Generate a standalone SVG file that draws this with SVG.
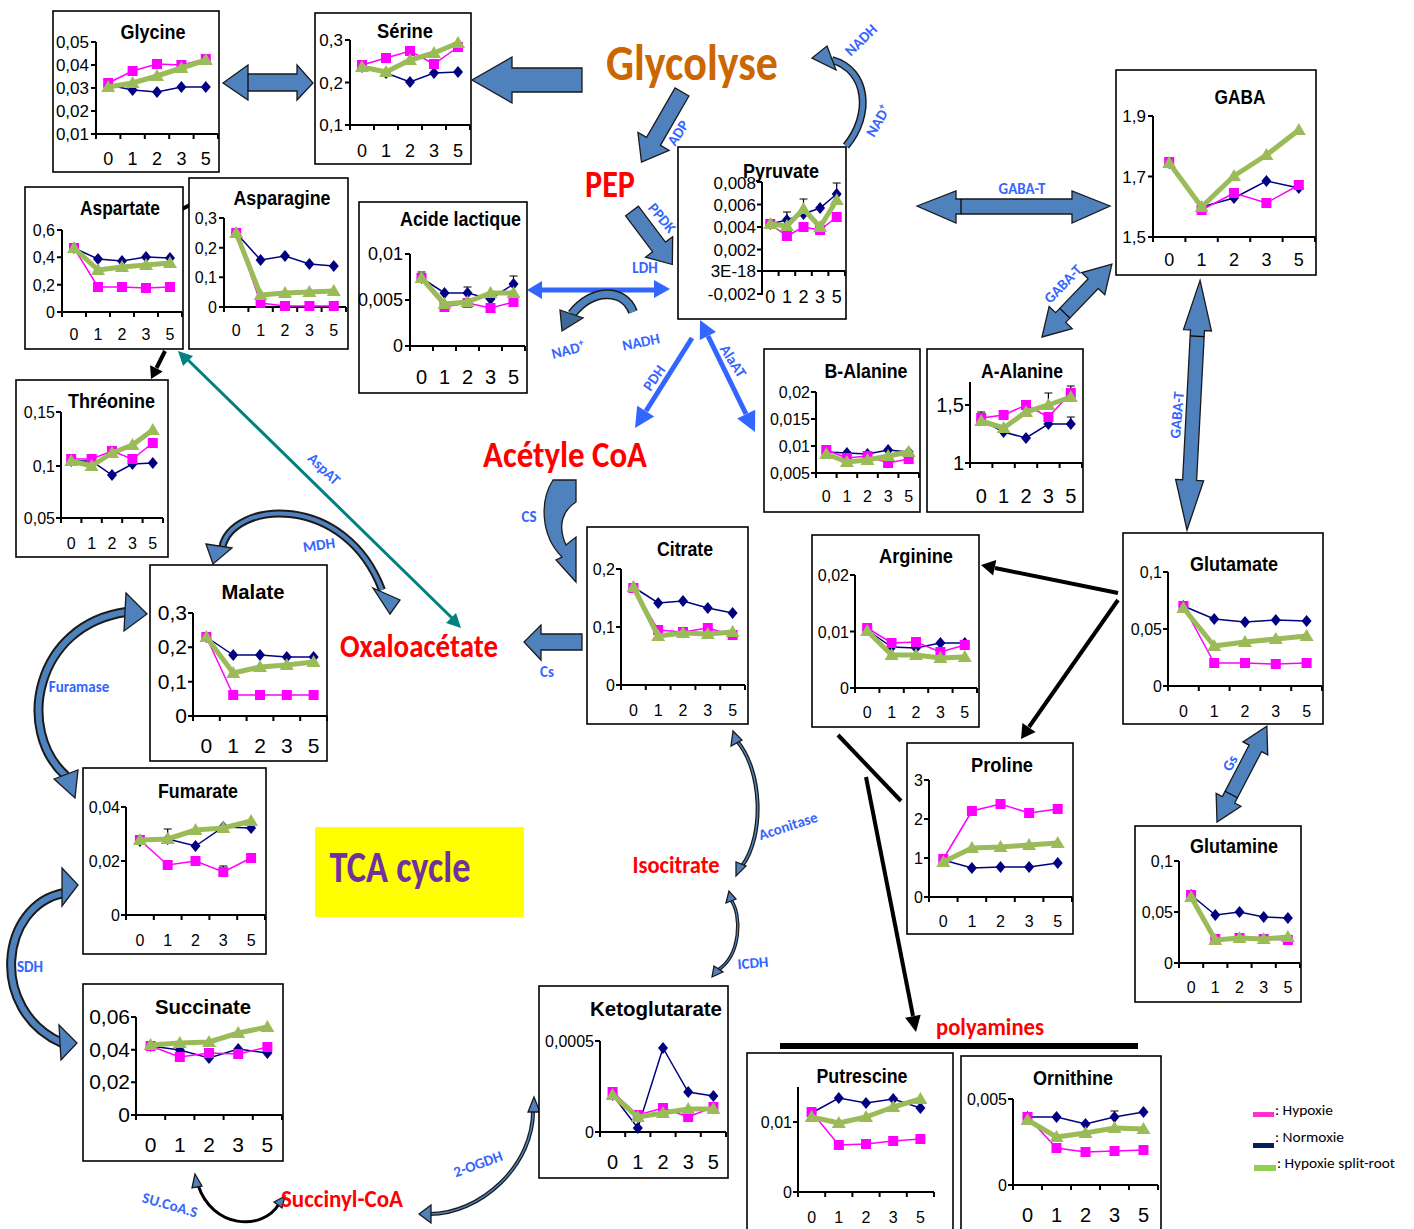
<svg xmlns="http://www.w3.org/2000/svg" width="1414" height="1229" viewBox="0 0 1414 1229">
<defs>
<style>
.bx{fill:#fff;stroke:#000;stroke-width:1.6}
.ax{fill:none;stroke:#000;stroke-width:2}
.t{font-family:"Liberation Sans Narrow","Liberation Sans",Arial,sans-serif;fill:#000}
.tk{font-size:16px}
.ty{text-anchor:end}
.tx{text-anchor:middle}
.ti{font-weight:bold;font-size:20px;text-anchor:middle}
.n{fill:none;stroke:#000080;stroke-width:1.5;marker-start:url(#md);marker-mid:url(#md);marker-end:url(#md)}
.p{fill:none;stroke:#FF00FF;stroke-width:1.5;marker-start:url(#ms);marker-mid:url(#ms);marker-end:url(#ms)}
.g{fill:none;stroke:#9BBB59;stroke-width:5;stroke-linejoin:round;marker-start:url(#mt);marker-mid:url(#mt);marker-end:url(#mt)}
.eb{fill:none;stroke:#000;stroke-width:1.2}
.blk{fill:#4F81BD;stroke:#1a1a1a;stroke-width:1.3;stroke-linejoin:miter}
.cvo{fill:none;stroke:#1a1a1a;stroke-linecap:butt}
.cvi{fill:none;stroke:#4F81BD;stroke-linecap:butt}
.enz{font-family:"Carlito","Liberation Sans Narrow","Liberation Sans",sans-serif;font-weight:bold;font-size:15px;fill:#3366FF;text-anchor:middle}
.met{font-family:"Carlito","Liberation Sans Narrow","Liberation Sans",sans-serif;font-weight:bold;fill:#FF0000;text-anchor:middle}
.bl{stroke:#000;stroke-width:4;fill:none}
.bh{fill:#000}
.lb{stroke:#3366FF;stroke-width:5;fill:none}
.lh{fill:#3366FF}
.lg{font-family:"Carlito","Liberation Sans Narrow","Liberation Sans",sans-serif;font-size:15px;fill:#000}
</style>
<marker id="md" viewBox="-7 -7 14 14" markerWidth="14" markerHeight="14" markerUnits="userSpaceOnUse" refX="0" refY="0" overflow="visible"><path d="M0,-6L5,0L0,6L-5,0Z" fill="#000080"/></marker>
<marker id="ms" viewBox="-7 -7 14 14" markerWidth="14" markerHeight="14" markerUnits="userSpaceOnUse" refX="0" refY="0" overflow="visible"><rect x="-5" y="-5" width="10" height="10" fill="#FF00FF"/></marker>
<marker id="mt" viewBox="-8 -8 16 16" markerWidth="16" markerHeight="16" markerUnits="userSpaceOnUse" refX="0" refY="0" overflow="visible"><path d="M0,-7L7,5H-7Z" fill="#9BBB59"/></marker>
</defs>
<rect width="1414" height="1229" fill="#fff"/>

<!-- ===================== CONNECTORS ===================== -->
<g id="connectors">
<path class="blk" d="M582,68L512,68L512,57L472,80L512,103L512,92L582,92Z"/>
<path class="blk" d="M223,83L248,65L248,74L297,74L297,65L313,83L297,100L297,91L248,91L248,100Z"/>
<path class="eb" d="M248,74V91"/>
<path class="blk" transform="translate(682,92) rotate(120)" d="M0,-8L57,-8L57,-18L81,0L57,18L57,8L0,8Z"/>
<path class="blk" transform="translate(632,211) rotate(53)" d="M0,-8L45,-8L45,-17L67,0L45,17L45,8L0,8Z"/>
<path class="cvo" stroke-width="8" d="M846,146C872,115 868,70 832,60"/>
<path class="cvi" stroke-width="5" d="M846,146C872,115 868,70 832,60"/>
<path class="blk" d="M827,46L836,70L812,58Z"/>
<path class="lb" stroke-width="6" d="M540,290H657"/>
<path class="lh" d="M654,280L670,289L654,298Z"/>
<path class="lh" d="M542,281L527,290L542,299Z"/>
<path class="cvo" stroke-width="10" d="M633,312C624,288 592,288 572,314"/>
<path class="cvi" stroke-width="7" stroke="#3E6A9A" d="M633,312C624,288 592,288 572,314"/>
<path class="blk" style="fill:#3E6A9A" d="M560,310L583,318L562,331Z"/>
<path class="lb" d="M692,338L646,411"/>
<path class="lh" d="M635,428L654.2,416.5L637.2,405.7Z"/>
<path class="lb" d="M708,336L746,414"/>
<path class="lh" d="M755,432L755.2,409.7L737.2,418.5Z"/>
<path class="lh" d="M700,320L716,332L699.8,340Z"/>
<path class="blk" d="M917,206L956,191L956,199L1072,199L1072,191L1110,206L1072,223L1072,214L956,214L956,223Z"/>
<path class="eb" d="M961,199V214"/>
<path class="blk" transform="translate(1042,337) rotate(-46.2)" d="M0,0L27,-16L27,-7L74,-7L74,-16L101,0L74,16L74,7L27,7L27,16Z"/>
<path class="eb" transform="translate(1042,337) rotate(-46.2)" d="M33,-7V7"/>
<path class="blk" transform="translate(1187,530) rotate(-87)" d="M0,0L50,-14L50,-7L200,-7L200,-14L250,0L200,14L200,7L50,7L50,14Z"/>
<path class="eb" transform="translate(1187,530) rotate(-87)" d="M194,-7V7"/>
<path class="blk" transform="translate(1217,822) rotate(-62.5)" d="M0,0L25,-14L25,-7L83,-7L83,-14L108,0L83,14L83,7L25,7L25,14Z"/>
<path class="eb" transform="translate(1217,822) rotate(-62.5)" d="M31,-7V7"/>
<path class="blk" d="M582,634L541,634L541,625L524,642L541,660L541,650L582,650Z"/>
<path class="blk" d="M553,480L576,480L576,502C563,510 557,525 566,545L576,537L576,582L556,560L562,557C540,535 540,500 553,480Z"/>
<path class="cvo" stroke-width="8" d="M222,548C232,500 345,492 382,590"/>
<path class="cvi" stroke-width="4" d="M222,548C232,500 345,492 382,590"/>
<path class="blk" d="M206,544L232,548L213,564Z"/>
<path class="blk" d="M373,588L400,600L390,614Z"/>
<path d="M186,358L452,618" stroke="#008080" stroke-width="3" fill="none"/>
<path fill="#008080" d="M178,351L193,356L183,366Z"/>
<path fill="#008080" d="M461,628L456,613L446,623Z"/>
<path class="cvo" stroke-width="10" d="M66,776C15,730 35,625 126,612"/>
<path class="cvi" stroke-width="6" d="M66,776C15,730 35,625 126,612"/>
<path class="blk" d="M126,593L147,614L124,631Z"/>
<path class="blk" d="M54,779L78,770L75,798Z"/>
<path class="cvo" stroke-width="10" d="M64,893C0,905 -12,1010 62,1043"/>
<path class="cvi" stroke-width="6" d="M64,893C0,905 -12,1010 62,1043"/>
<path class="blk" d="M62,868L78,885L62,906Z"/>
<path class="blk" d="M59,1025L77,1043L61,1060Z"/>
<path class="cvo" stroke-width="4" d="M737,741C762,770 765,835 742,866"/>
<path class="cvi" stroke-width="1.5" d="M737,741C762,770 765,835 742,866"/>
<path class="blk" d="M733,731L731,746L742,740Z"/>
<path class="blk" d="M736,876L736,862L746,866Z"/>
<path class="cvo" stroke-width="3.5" d="M731,900C742,915 741,955 718,970"/>
<path class="cvi" stroke-width="1.2" d="M731,900C742,915 741,955 718,970"/>
<path class="blk" d="M729,891L726,903L736,899Z"/>
<path class="blk" d="M712,977L714,966L723,972Z"/>
<path class="cvo" stroke-width="4" d="M533,1108C535,1165 480,1215 428,1214"/>
<path class="cvi" stroke-width="1.5" d="M533,1108C535,1165 480,1215 428,1214"/>
<path class="blk" d="M534,1097L528,1112L540,1112Z"/>
<path class="blk" d="M419,1214L431,1205L431,1223Z"/>
<path fill="none" stroke="#000" stroke-width="3" d="M198,1185C212,1228 262,1232 279,1204"/>
<path class="blk" d="M195,1174L192,1188L202,1186Z"/>
<path class="blk" d="M285,1196L274,1202L282,1208Z"/>
<path class="bl" d="M176,212L196,202"/>
<path class="bh" d="M207,196L199.5,207.7L193.1,195.3Z"/>
<path class="bl" d="M165,351L156.5,368"/>
<path class="bh" d="M151,379L162.7,371.4L150.1,365.2Z"/>
<path class="bl" d="M1118,593L995,568"/>
<path class="bh" d="M981,565L996.3,560L993.1,575.6Z"/>
<path class="bl" d="M1118,600L1029,727"/>
<path class="bh" d="M1021,739L1035.6,732.1L1022.4,722.9Z"/>
<path class="bl" d="M838,735L901,801"/>
<path class="bl" d="M866,777L913,1016"/>
<path class="bh" d="M916,1032L920.7,1014.8L905.1,1017.8Z"/>
<path d="M780,1046H1138" stroke="#000" stroke-width="6"/>
</g>

<!-- ===================== ENZYME LABELS ===================== -->
<g id="enzyme-labels">
<text class="enz" font-size="14" transform="rotate(-57 678 133)" x="678" y="138">ADP</text>
<text class="enz" font-size="14" transform="rotate(50 662 218)" x="662" y="223">PPDK</text>
<text class="enz" font-size="14" x="645" y="273">LDH</text>
<text class="enz" transform="rotate(-44 861 40)" x="861" y="45">NADH</text>
<text class="enz" transform="rotate(-60 878 121)" x="878" y="126">NAD<tspan font-size="10" baseline-shift="super">+</tspan></text>
<text class="enz" font-size="15" transform="rotate(-14 568 350)" x="568" y="355">NAD<tspan font-size="10" baseline-shift="super">+</tspan></text>
<text class="enz" font-size="16" transform="rotate(-12 641 342)" x="641" y="347">NADH</text>
<text class="enz" font-size="14" transform="rotate(-55 654 378)" x="654" y="383">PDH</text>
<text class="enz" font-size="14" transform="rotate(57 733 361)" x="733" y="366">AlaAT</text>
<text class="enz" x="1022" y="194">GABA-T</text>
<text class="enz" transform="rotate(-46 1063 284)" x="1063" y="289">GABA-T</text>
<text class="enz" transform="rotate(-85 1177 415)" x="1177" y="420">GABA-T</text>
<text class="enz" font-size="14" transform="rotate(-60 1230 763)" x="1230" y="768">Gs</text>
<text class="enz" font-size="14" x="529" y="522">CS</text>
<text class="enz" font-size="14" x="547" y="677">Cs</text>
<text class="enz" font-size="14" transform="rotate(44 324 469)" x="324" y="474">AspAT</text>
<text class="enz" font-size="14" transform="rotate(-8 319 545)" x="319" y="550">MDH</text>
<text class="enz" font-size="14" x="79" y="692">Furamase</text>
<text class="enz" font-size="14" x="30" y="972">SDH</text>
<text class="enz" transform="rotate(-18 788 826)" x="788" y="831">Aconitase</text>
<text class="enz" transform="rotate(-5 753 963)" x="753" y="968">ICDH</text>
<text class="enz" transform="rotate(-20 478 1164)" x="478" y="1169">2-OGDH</text>
<text class="enz" transform="rotate(16 170 1205)" x="170" y="1210">SU.CoA.S</text>
</g>

<!-- ===================== METABOLITE TEXT NODES ===================== -->
<g id="glycolyse"><text class="met" style="fill:#CC6600" font-size="50" x="692" y="80" textLength="172" lengthAdjust="spacingAndGlyphs">Glycolyse</text></g>
<g id="pep"><text class="met" font-size="38" x="610" y="197" textLength="50" lengthAdjust="spacingAndGlyphs">PEP</text></g>
<g id="acetylcoa"><text class="met" font-size="36" x="565" y="467" textLength="164" lengthAdjust="spacingAndGlyphs">Acétyle CoA</text></g>
<g id="oxaloacetate"><text class="met" font-size="33" x="419" y="657" textLength="158" lengthAdjust="spacingAndGlyphs">Oxaloacétate</text></g>
<g id="isocitrate"><text class="met" font-size="25" x="676" y="873" textLength="87" lengthAdjust="spacingAndGlyphs">Isocitrate</text></g>
<g id="succinylcoa"><text class="met" font-size="24" x="342" y="1207" textLength="122" lengthAdjust="spacingAndGlyphs">Succinyl-CoA</text></g>
<g id="polyamines"><text class="met" font-size="24" x="990" y="1035" textLength="108" lengthAdjust="spacingAndGlyphs">polyamines</text></g>
<g id="tca-cycle">
<rect x="315" y="827" width="209" height="90" fill="#FFFF00"/>
<text class="met" style="fill:#7030A0" font-size="44" x="400" y="882" textLength="141" lengthAdjust="spacingAndGlyphs">TCA cycle</text>
</g>

<!-- ===================== CHARTS ===================== -->
<g id="glycine">
<rect class="bx" x="53" y="11" width="166" height="161"/>
<text class="t ti" x="153" y="39" textLength="65" lengthAdjust="spacingAndGlyphs">Glycine</text>
<path class="ax" d="M96,42V134H218M91,42H96M91,65H96M91,88H96M91,111H96M91,134H96M96,134v5M120.4,134v5M144.8,134v5M169.2,134v5M193.6,134v5M218,134v5"/>
<g class="t ty" font-size="17"><text x="89" y="48">0,05</text><text x="89" y="71">0,04</text><text x="89" y="94">0,03</text><text x="89" y="117">0,02</text><text x="89" y="140">0,01</text></g>
<g class="t tx" font-size="18"><text x="108.2" y="165">0</text><text x="132.6" y="165">1</text><text x="157" y="165">2</text><text x="181.4" y="165">3</text><text x="205.8" y="165">5</text></g>
<polyline class="n" points="108.2,85 132.6,90 157,92 181.4,87 205.8,87"/>
<polyline class="p" points="108.2,83 132.6,71 157,64 181.4,65 205.8,59"/>
<polyline class="g" points="108.2,87 132.6,83 157,76 181.4,68 205.8,60"/>
</g>

<g id="serine">
<rect class="bx" x="315" y="13" width="156" height="151"/>
<text class="t ti" x="405" y="38" textLength="56" lengthAdjust="spacingAndGlyphs">Sérine</text>
<path class="ax" d="M350,40V125H470M345,40H350M345,82.5H350M345,125H350M350,125v5M374,125v5M398,125v5M422,125v5M446,125v5M470,125v5"/>
<g class="t ty" font-size="17"><text x="343" y="46">0,3</text><text x="343" y="88.5">0,2</text><text x="343" y="131">0,1</text></g>
<g class="t tx" font-size="18"><text x="362" y="157">0</text><text x="386" y="157">1</text><text x="410" y="157">2</text><text x="434" y="157">3</text><text x="458" y="157">5</text></g>
<polyline class="n" points="362,67 386,73 410,82 434,73 458,72"/>
<polyline class="p" points="362,65 386,58 410,51 434,64 458,47"/>
<polyline class="g" points="362,67 386,72 410,60 434,53 458,43"/>
</g>

<g id="pyruvate">
<rect class="bx" x="678" y="147" width="168" height="172"/>
<text class="t ti" x="781" y="178" textLength="76" lengthAdjust="spacingAndGlyphs">Pyruvate</text>
<path class="ax" d="M762,182V295M762,271H845M757,182H762M757,204.5H762M757,227H762M757,249.5H762M757,271H762M757,294H762M762,271v5M778.6,271v5M795.2,271v5M811.8,271v5M828.4,271v5M845,271v5"/>
<g class="t ty" font-size="17"><text x="756" y="189">0,008</text><text x="756" y="210.5">0,006</text><text x="756" y="233">0,004</text><text x="756" y="255.5">0,002</text><text x="756" y="277">3E-18</text><text x="756" y="300">-0,002</text></g>
<g class="t tx" font-size="18"><text x="770.3" y="303">0</text><text x="786.9" y="303">1</text><text x="803.5" y="303">2</text><text x="820.1" y="303">3</text><text x="836.7" y="303">5</text></g>
<path class="eb" d="M786.9,220V212M783,212H791M803.5,209V199M799.5,199H807.5M836.7,194V183M832.7,183H840.7"/>
<polyline class="n" points="770.3,224 786.9,220 803.5,214 820.1,208 836.7,194"/>
<polyline class="p" points="770.3,224 786.9,236 803.5,227 820.1,230 836.7,217"/>
<polyline class="g" points="770.3,224 786.9,226 803.5,209 820.1,227 836.7,200"/>
</g>

<g id="gaba">
<rect class="bx" x="1116" y="70" width="200" height="205"/>
<text class="t ti" font-size="22" x="1240" y="104" textLength="51" lengthAdjust="spacingAndGlyphs">GABA</text>
<path class="ax" d="M1153,116V237H1315M1148,116H1153M1148,176.5H1153M1148,237H1153M1153,237v5M1185.4,237v5M1217.8,237v5M1250.2,237v5M1282.6,237v5M1315,237v5"/>
<g class="t ty" font-size="17"><text x="1146" y="122">1,9</text><text x="1146" y="182.5">1,7</text><text x="1146" y="243">1,5</text></g>
<g class="t tx" font-size="18"><text x="1169.2" y="266">0</text><text x="1201.6" y="266">1</text><text x="1234" y="266">2</text><text x="1266.4" y="266">3</text><text x="1298.8" y="266">5</text></g>
<polyline class="n" points="1169.2,163 1201.6,207 1234,198 1266.4,181 1298.8,188"/>
<polyline class="p" points="1169.2,162 1201.6,210 1234,193 1266.4,203 1298.8,185"/>
<polyline class="g" points="1169.2,163 1201.6,207 1234,176 1266.4,155 1298.8,130"/>
</g>

<g id="aspartate">
<rect class="bx" x="25" y="187" width="158" height="162"/>
<text class="t ti" x="120" y="215" textLength="80" lengthAdjust="spacingAndGlyphs">Aspartate</text>
<path class="ax" d="M62,230V312H182M57,230H62M57,257.3H62M57,284.7H62M57,312H62M62,312v5M86,312v5M110,312v5M134,312v5M158,312v5M182,312v5"/>
<g class="t tk ty"><text x="55" y="236">0,6</text><text x="55" y="263">0,4</text><text x="55" y="290.5">0,2</text><text x="55" y="318">0</text></g>
<g class="t tk tx"><text x="74" y="340">0</text><text x="98" y="340">1</text><text x="122" y="340">2</text><text x="146" y="340">3</text><text x="170" y="340">5</text></g>
<polyline class="n" points="74,248 98,259 122,261 146,257 170,258"/>
<polyline class="p" points="74,248 98,287 122,287 146,288 170,287"/>
<polyline class="g" points="74,248 98,270 122,267 146,265 170,263"/>
</g>

<g id="asparagine">
<rect class="bx" x="189" y="178" width="159" height="171"/>
<text class="t ti" x="282" y="205" textLength="97" lengthAdjust="spacingAndGlyphs">Asparagine</text>
<path class="ax" d="M224,218V307H346M219,218H224M219,247.7H224M219,277.3H224M219,307H224M224,307v5M248.4,307v5M272.8,307v5M297.2,307v5M321.6,307v5M346,307v5"/>
<g class="t tk ty"><text x="217" y="224">0,3</text><text x="217" y="253.7">0,2</text><text x="217" y="283.3">0,1</text><text x="217" y="313">0</text></g>
<g class="t tk tx"><text x="236.2" y="336">0</text><text x="260.6" y="336">1</text><text x="285" y="336">2</text><text x="309.4" y="336">3</text><text x="333.8" y="336">5</text></g>
<polyline class="n" points="236.2,233 260.6,260 285,256 309.4,264 333.8,266"/>
<polyline class="p" points="236.2,233 260.6,303 285,306 309.4,306 333.8,306"/>
<polyline class="g" points="236.2,233 260.6,295 285,293 309.4,292 333.8,291"/>
</g>

<g id="acide-lactique">
<rect class="bx" x="359" y="202" width="168" height="191"/>
<text class="t ti" x="460.5" y="226" textLength="121" lengthAdjust="spacingAndGlyphs">Acide lactique</text>
<path class="ax" d="M410,254V346H525M405,254H410M405,300H410M405,346H410M410,346v5M433,346v5M456,346v5M479,346v5M502,346v5M525,346v5"/>
<g class="t ty" font-size="18"><text x="403" y="260">0,01</text><text x="403" y="306">0,005</text><text x="403" y="352">0</text></g>
<g class="t tx" font-size="20"><text x="421.5" y="384">0</text><text x="444.5" y="384">1</text><text x="467.5" y="384">2</text><text x="490.5" y="384">3</text><text x="513.5" y="384">5</text></g>
<path class="eb" d="M421.5,278V272M417.5,272H425.5M467.5,293V287M463.5,287H471.5M513.5,284V276M509.5,276H517.5"/>
<polyline class="n" points="421.5,278 444.5,293 467.5,293 490.5,299 513.5,284"/>
<polyline class="p" points="421.5,278 444.5,307 467.5,303 490.5,308 513.5,302"/>
<polyline class="g" points="421.5,278 444.5,304 467.5,302 490.5,293 513.5,293"/>
</g>

<g id="threonine">
<rect class="bx" x="16" y="380" width="152" height="177"/>
<text class="t ti" x="111.5" y="408" textLength="87" lengthAdjust="spacingAndGlyphs">Thréonine</text>
<path class="ax" d="M61,412V518H163M56,412H61M56,466H61M56,518H61M61,518v5M81.4,518v5M101.8,518v5M122.2,518v5M142.6,518v5M163,518v5"/>
<g class="t tk ty"><text x="55" y="418">0,15</text><text x="55" y="472">0,1</text><text x="55" y="524">0,05</text></g>
<g class="t tk tx"><text x="71.2" y="549">0</text><text x="91.6" y="549">1</text><text x="112" y="549">2</text><text x="132.4" y="549">3</text><text x="152.8" y="549">5</text></g>
<polyline class="n" points="71.2,461 91.6,461 112,475 132.4,464 152.8,463"/>
<polyline class="p" points="71.2,459 91.6,459 112,451 132.4,459 152.8,443"/>
<polyline class="g" points="71.2,461 91.6,466 112,453 132.4,445 152.8,430"/>
</g>

<g id="malate">
<rect class="bx" x="150" y="565" width="177" height="196"/>
<text class="t ti" font-size="24" x="253" y="599" textLength="63" lengthAdjust="spacingAndGlyphs">Malate</text>
<path class="ax" d="M193,613V716H327M188,613H193M188,647.3H193M188,681.7H193M188,716H193M193,716v5M219.8,716v5M246.6,716v5M273.4,716v5M300.2,716v5M327,716v5"/>
<g class="t ty" font-size="21"><text x="187" y="620">0,3</text><text x="187" y="654.3">0,2</text><text x="187" y="688.7">0,1</text><text x="187" y="723">0</text></g>
<g class="t tx" font-size="21"><text x="206.4" y="753">0</text><text x="233.2" y="753">1</text><text x="260" y="753">2</text><text x="286.8" y="753">3</text><text x="313.6" y="753">5</text></g>
<polyline class="n" points="206.4,637 233.2,655 260,655 286.8,657 313.6,657"/>
<polyline class="p" points="206.4,637 233.2,695 260,695 286.8,695 313.6,695"/>
<polyline class="g" points="206.4,637 233.2,673 260,667 286.8,665 313.6,662"/>
</g>

<g id="fumarate">
<rect class="bx" x="83" y="768" width="183" height="186"/>
<text class="t ti" x="198" y="798" textLength="80" lengthAdjust="spacingAndGlyphs">Fumarate</text>
<path class="ax" d="M126,807V915H265M121,807H126M121,861H126M121,915H126M126,915v5M153.8,915v5M181.6,915v5M209.4,915v5M237.2,915v5M265,915v5"/>
<g class="t tk ty"><text x="120" y="813">0,04</text><text x="120" y="867">0,02</text><text x="120" y="921">0</text></g>
<g class="t tk tx"><text x="139.9" y="946">0</text><text x="167.7" y="946">1</text><text x="195.5" y="946">2</text><text x="223.3" y="946">3</text><text x="251.1" y="946">5</text></g>
<path class="eb" d="M167.7,839V829M163.7,829H171.7M223.3,872V866M219.3,866H227.3"/>
<polyline class="n" points="139.9,841 167.7,839 195.5,846 223.3,827 251.1,828"/>
<polyline class="p" points="139.9,840 167.7,865 195.5,861 223.3,872 251.1,858"/>
<polyline class="g" points="139.9,840 167.7,839 195.5,830 223.3,828 251.1,821"/>
</g>

<g id="succinate">
<rect class="bx" x="83" y="984" width="200" height="177"/>
<text class="t ti" font-size="24" x="203" y="1014" textLength="96" lengthAdjust="spacingAndGlyphs">Succinate</text>
<path class="ax" d="M136,1017V1115H282M131,1017H136M131,1049.7H136M131,1082.3H136M131,1115H136M136,1115v5M165.2,1115v5M194.4,1115v5M223.6,1115v5M252.8,1115v5M282,1115v5"/>
<g class="t ty" font-size="21"><text x="130" y="1024">0,06</text><text x="130" y="1056.7">0,04</text><text x="130" y="1089.3">0,02</text><text x="130" y="1122">0</text></g>
<g class="t tx" font-size="21"><text x="150.6" y="1152">0</text><text x="179.8" y="1152">1</text><text x="209" y="1152">2</text><text x="238.2" y="1152">3</text><text x="267.4" y="1152">5</text></g>
<polyline class="n" points="150.6,1046 179.8,1050 209,1058 238.2,1049 267.4,1053"/>
<polyline class="p" points="150.6,1046 179.8,1057 209,1053 238.2,1054 267.4,1047"/>
<polyline class="g" points="150.6,1045 179.8,1043 209,1042 238.2,1033 267.4,1027"/>
</g>

<g id="citrate">
<rect class="bx" x="587" y="527" width="161" height="197"/>
<text class="t ti" x="685" y="556" textLength="56" lengthAdjust="spacingAndGlyphs">Citrate</text>
<path class="ax" d="M621,569V685H745M616,569H621M616,627H621M616,685H621M621,685v5M645.8,685v5M670.6,685v5M695.4,685v5M720.2,685v5M745,685v5"/>
<g class="t tk ty"><text x="615" y="575">0,2</text><text x="615" y="633">0,1</text><text x="615" y="691">0</text></g>
<g class="t tk tx"><text x="633.4" y="716">0</text><text x="658.2" y="716">1</text><text x="683" y="716">2</text><text x="707.8" y="716">3</text><text x="732.6" y="716">5</text></g>
<polyline class="n" points="633.4,587 658.2,603 683,601 707.8,608 732.6,613"/>
<polyline class="p" points="633.4,588 658.2,630 683,632 707.8,628 732.6,635"/>
<polyline class="g" points="633.4,587 658.2,636 683,633 707.8,634 732.6,632"/>
</g>

<g id="arginine">
<rect class="bx" x="812" y="535" width="167" height="192"/>
<text class="t ti" x="916" y="563" textLength="74" lengthAdjust="spacingAndGlyphs">Arginine</text>
<path class="ax" d="M855,575V688H977M850,575H855M850,631.5H855M850,688H855M855,688v5M879.4,688v5M903.8,688v5M928.2,688v5M952.6,688v5M977,688v5"/>
<g class="t tk ty"><text x="849" y="581">0,02</text><text x="849" y="637.5">0,01</text><text x="849" y="694">0</text></g>
<g class="t tk tx"><text x="867.2" y="718">0</text><text x="891.6" y="718">1</text><text x="916" y="718">2</text><text x="940.4" y="718">3</text><text x="964.8" y="718">5</text></g>
<polyline class="n" points="867.2,630 891.6,647 916,648 940.4,643 964.8,643"/>
<polyline class="p" points="867.2,628 891.6,643 916,642 940.4,652 964.8,645"/>
<polyline class="g" points="867.2,631 891.6,655 916,655 940.4,658 964.8,657"/>
</g>

<g id="b-alanine">
<rect class="bx" x="764" y="349" width="156" height="163"/>
<text class="t ti" x="866" y="378" textLength="83" lengthAdjust="spacingAndGlyphs">B-Alanine</text>
<path class="ax" d="M816,392V473H919M811,392H816M811,419H816M811,446H816M811,473H816M816,473v5M836.6,473v5M857.2,473v5M877.8,473v5M898.4,473v5M919,473v5"/>
<g class="t tk ty"><text x="810" y="398">0,02</text><text x="810" y="425">0,015</text><text x="810" y="452">0,01</text><text x="810" y="479">0,005</text></g>
<g class="t tk tx"><text x="826.3" y="502">0</text><text x="846.9" y="502">1</text><text x="867.5" y="502">2</text><text x="888.1" y="502">3</text><text x="908.7" y="502">5</text></g>
<polyline class="n" points="826.3,452 846.9,453 867.5,454 888.1,450 908.7,452"/>
<polyline class="p" points="826.3,450 846.9,458 867.5,456 888.1,463 908.7,459"/>
<polyline class="g" points="826.3,454 846.9,462 867.5,460 888.1,456 908.7,452"/>
</g>

<g id="a-alanine">
<rect class="bx" x="927" y="349" width="156" height="163"/>
<text class="t ti" x="1022" y="378" textLength="82" lengthAdjust="spacingAndGlyphs">A-Alanine</text>
<path class="ax" d="M970,382V463H1082M965,405H970M965,463H970M970,463v5M992.4,463v5M1014.8,463v5M1037.2,463v5M1059.6,463v5M1082,463v5"/>
<g class="t ty" font-size="20"><text x="964" y="412">1,5</text><text x="964" y="470">1</text></g>
<g class="t tx" font-size="20"><text x="981.2" y="503">0</text><text x="1003.6" y="503">1</text><text x="1026" y="503">2</text><text x="1048.4" y="503">3</text><text x="1070.8" y="503">5</text></g>
<path class="eb" d="M981.2,420V412M977.2,412H985.2M1048.4,405V393M1044.4,393H1052.4M1070.8,393V386M1066.8,386H1074.8M1070.8,424V417M1066.8,417H1074.8"/>
<polyline class="n" points="981.2,420 1003.6,432 1026,438 1048.4,424 1070.8,424"/>
<polyline class="p" points="981.2,418 1003.6,415 1026,405 1048.4,417 1070.8,393"/>
<polyline class="g" points="981.2,421 1003.6,428 1026,412 1048.4,405 1070.8,397"/>
</g>

<g id="glutamate">
<rect class="bx" x="1123" y="533" width="200" height="191"/>
<text class="t ti" x="1234" y="571" textLength="88" lengthAdjust="spacingAndGlyphs">Glutamate</text>
<path class="ax" d="M1168,572V686H1322M1163,572H1168M1163,629H1168M1163,686H1168M1168,686v5M1198.8,686v5M1229.6,686v5M1260.4,686v5M1291.2,686v5M1322,686v5"/>
<g class="t tk ty"><text x="1162" y="578">0,1</text><text x="1162" y="635">0,05</text><text x="1162" y="692">0</text></g>
<g class="t tk tx"><text x="1183.4" y="717">0</text><text x="1214.2" y="717">1</text><text x="1245" y="717">2</text><text x="1275.8" y="717">3</text><text x="1306.6" y="717">5</text></g>
<polyline class="n" points="1183.4,606 1214.2,619 1245,622 1275.8,620 1306.6,621"/>
<polyline class="p" points="1183.4,606 1214.2,663 1245,663 1275.8,664 1306.6,663"/>
<polyline class="g" points="1183.4,608 1214.2,646 1245,642 1275.8,639 1306.6,636"/>
</g>

<g id="glutamine">
<rect class="bx" x="1135" y="826" width="166" height="176"/>
<text class="t ti" x="1234" y="853" textLength="88" lengthAdjust="spacingAndGlyphs">Glutamine</text>
<path class="ax" d="M1179,861V963H1300M1174,861H1179M1174,912H1179M1174,963H1179M1179,963v5M1203.2,963v5M1227.4,963v5M1251.6,963v5M1275.8,963v5M1300,963v5"/>
<g class="t tk ty"><text x="1173" y="867">0,1</text><text x="1173" y="918">0,05</text><text x="1173" y="969">0</text></g>
<g class="t tk tx"><text x="1191.1" y="993">0</text><text x="1215.3" y="993">1</text><text x="1239.5" y="993">2</text><text x="1263.7" y="993">3</text><text x="1287.9" y="993">5</text></g>
<polyline class="n" points="1191.1,895 1215.3,915 1239.5,912 1263.7,917 1287.9,918"/>
<polyline class="p" points="1191.1,895 1215.3,939 1239.5,938 1263.7,939 1287.9,940"/>
<polyline class="g" points="1191.1,897 1215.3,940 1239.5,938 1263.7,939 1287.9,937"/>
</g>

<g id="proline">
<rect class="bx" x="907" y="743" width="166" height="191"/>
<text class="t ti" x="1002" y="772" textLength="62" lengthAdjust="spacingAndGlyphs">Proline</text>
<path class="ax" d="M929,780V897H1072M924,780H929M924,819H929M924,858H929M924,897H929M929,897v5M957.6,897v5M986.2,897v5M1014.8,897v5M1043.4,897v5M1072,897v5"/>
<g class="t tk ty"><text x="923" y="786">3</text><text x="923" y="825">2</text><text x="923" y="864">1</text><text x="923" y="903">0</text></g>
<g class="t tk tx"><text x="943.3" y="927">0</text><text x="971.9" y="927">1</text><text x="1000.5" y="927">2</text><text x="1029.1" y="927">3</text><text x="1057.7" y="927">5</text></g>
<polyline class="n" points="943.3,860 971.9,868 1000.5,867 1029.1,867 1057.7,863"/>
<polyline class="p" points="943.3,859 971.9,811 1000.5,804 1029.1,813 1057.7,809"/>
<polyline class="g" points="943.3,862 971.9,848 1000.5,847 1029.1,845 1057.7,843"/>
</g>

<g id="ketoglutarate">
<rect class="bx" x="539" y="986" width="189" height="192"/>
<text class="t ti" font-size="22" x="656" y="1016" textLength="132" lengthAdjust="spacingAndGlyphs">Ketoglutarate</text>
<path class="ax" d="M600,1041V1132H726M595,1041H600M595,1132H600M600,1132v5M625.2,1132v5M650.4,1132v5M675.6,1132v5M700.8,1132v5M726,1132v5"/>
<g class="t tk ty"><text x="594" y="1047">0,0005</text><text x="594" y="1138">0</text></g>
<g class="t tx" font-size="20"><text x="612.6" y="1169">0</text><text x="637.8" y="1169">1</text><text x="663" y="1169">2</text><text x="688.2" y="1169">3</text><text x="713.4" y="1169">5</text></g>
<polyline class="n" points="612.6,1095 637.8,1128 663,1048 688.2,1092 713.4,1096"/>
<polyline class="p" points="612.6,1092 637.8,1115 663,1108 688.2,1117 713.4,1107"/>
<polyline class="g" points="612.6,1095 637.8,1117 663,1113 688.2,1109 713.4,1109"/>
</g>

<g id="putrescine">
<rect class="bx" x="747" y="1053" width="206" height="185"/>
<text class="t ti" x="862" y="1083" textLength="91" lengthAdjust="spacingAndGlyphs">Putrescine</text>
<path class="ax" d="M798,1087V1192H934M793,1122H798M793,1192H798M798,1192v5M825.2,1192v5M852.4,1192v5M879.6,1192v5M906.8,1192v5M934,1192v5"/>
<g class="t tk ty"><text x="792" y="1128">0,01</text><text x="792" y="1198">0</text></g>
<g class="t tk tx"><text x="811.6" y="1223">0</text><text x="838.8" y="1223">1</text><text x="866" y="1223">2</text><text x="893.2" y="1223">3</text><text x="920.4" y="1223">5</text></g>
<polyline class="n" points="811.6,1113 838.8,1098 866,1103 893.2,1099 920.4,1108"/>
<polyline class="p" points="811.6,1112 838.8,1145 866,1144 893.2,1141 920.4,1139"/>
<polyline class="g" points="811.6,1117 838.8,1123 866,1117 893.2,1107 920.4,1099"/>
</g>

<g id="ornithine">
<rect class="bx" x="961" y="1056" width="200" height="182"/>
<text class="t ti" x="1073" y="1085" textLength="80" lengthAdjust="spacingAndGlyphs">Ornithine</text>
<path class="ax" d="M1013,1099V1185H1158M1008,1099H1013M1008,1185H1013M1013,1185v5M1042,1185v5M1071,1185v5M1100,1185v5M1129,1185v5M1158,1185v5"/>
<g class="t tk ty"><text x="1007" y="1105">0,005</text><text x="1007" y="1191">0</text></g>
<g class="t tx" font-size="20"><text x="1027.5" y="1222">0</text><text x="1056.5" y="1222">1</text><text x="1085.5" y="1222">2</text><text x="1114.5" y="1222">3</text><text x="1143.5" y="1222">5</text></g>
<path class="eb" d="M1114.5,1117V1111M1110.5,1111H1118.5"/>
<polyline class="n" points="1027.5,1117 1056.5,1117 1085.5,1124 1114.5,1117 1143.5,1112"/>
<polyline class="p" points="1027.5,1117 1056.5,1148 1085.5,1152 1114.5,1151 1143.5,1150"/>
<polyline class="g" points="1027.5,1120 1056.5,1137 1085.5,1133 1114.5,1128 1143.5,1129"/>
</g>

<g id="legend">
<rect x="1253" y="1112" width="21" height="5" fill="#FF33CC"/>
<text class="lg" x="1275" y="1115" textLength="58" lengthAdjust="spacingAndGlyphs">: Hypoxie</text>
<rect x="1253" y="1143" width="21" height="5" fill="#002060"/>
<text class="lg" x="1275" y="1142" textLength="69" lengthAdjust="spacingAndGlyphs">: Normoxie</text>
<rect x="1254" y="1165" width="22" height="6" fill="#92D050"/>
<text class="lg" x="1277" y="1168" textLength="118" lengthAdjust="spacingAndGlyphs">: Hypoxie split-root</text>
</g>
</svg>
